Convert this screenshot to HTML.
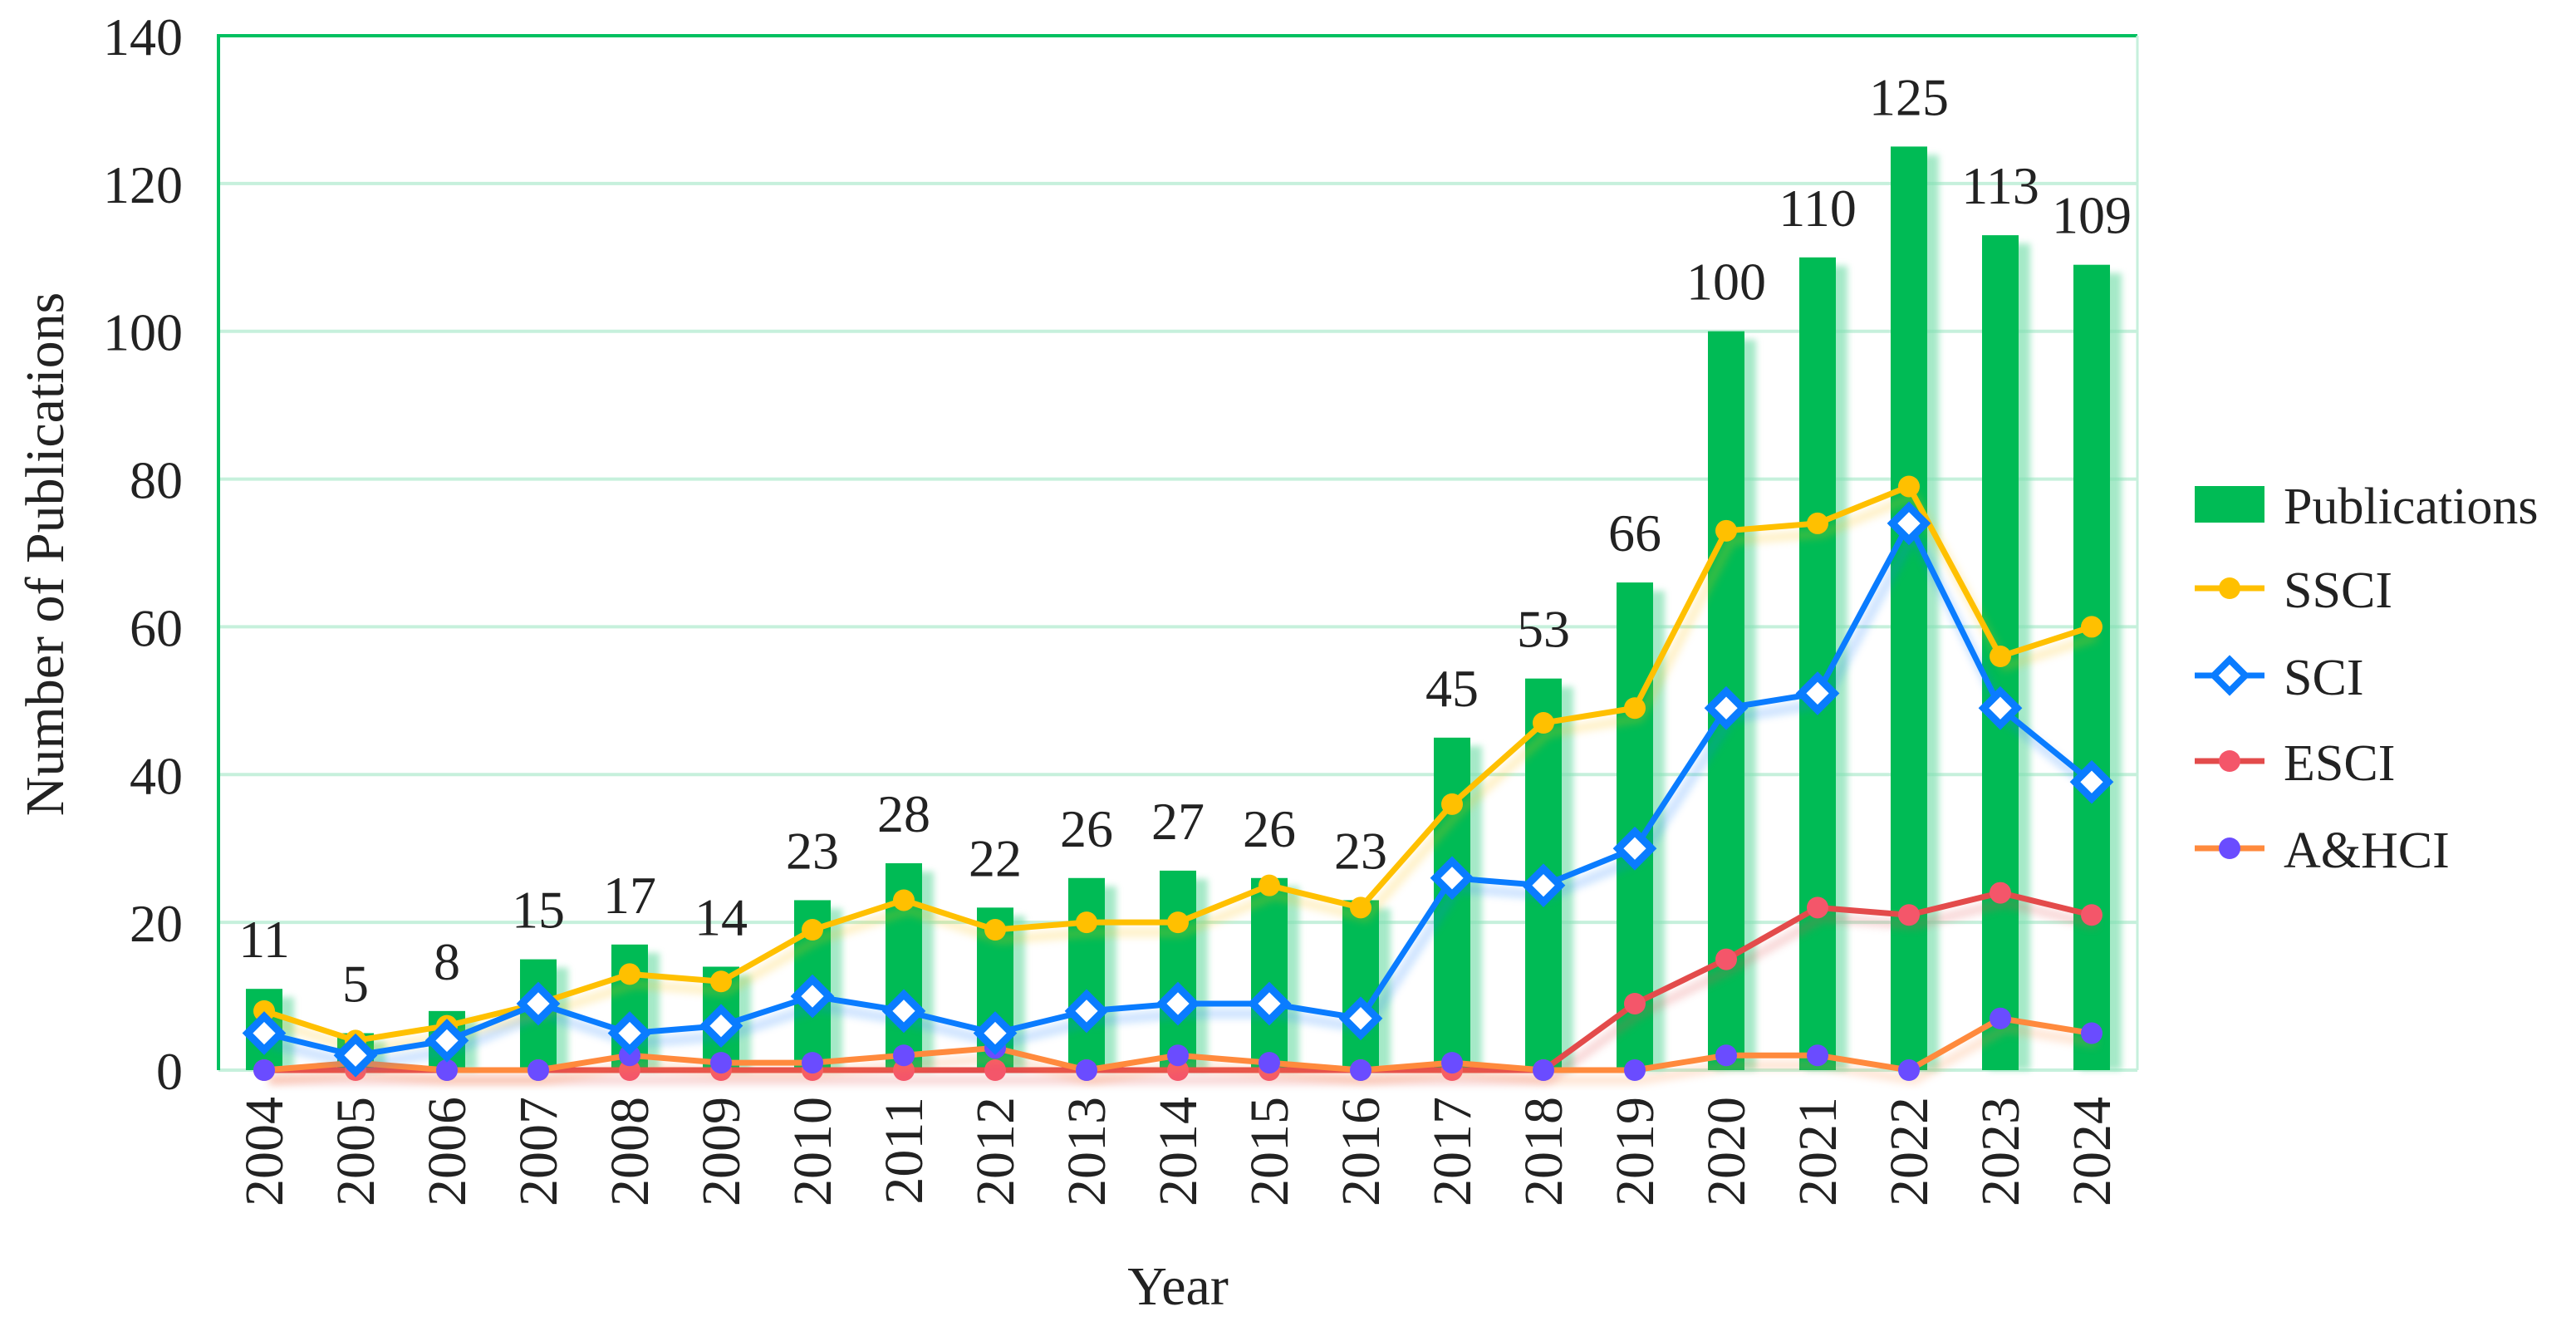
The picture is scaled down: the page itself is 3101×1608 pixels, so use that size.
<!DOCTYPE html>
<html><head><meta charset="utf-8">
<style>
html,body{margin:0;padding:0;background:#fff;}
svg{display:block;font-family:"Liberation Serif","Times New Roman",serif;}
</style></head>
<body>
<svg id="chart" width="3101" height="1608" viewBox="0 0 3101 1608" xmlns="http://www.w3.org/2000/svg">
<defs>
<filter id="glow" x="-20%" y="-20%" width="140%" height="140%"><feGaussianBlur stdDeviation="4"/></filter>
<filter id="lglow" x="-5%" y="-20%" width="110%" height="140%"><feGaussianBlur stdDeviation="5"/></filter>
</defs>
<g id="grid"></g>
<g id="bars"></g>
<g id="lines"></g>
<g id="axes"></g>
<g id="labels"></g>
<text x="0" y="0" transform="translate(76,667) rotate(-90)" font-size="66" text-anchor="middle" fill="#222">Number of Publications</text>
<text x="1418" y="1570" font-size="66" text-anchor="middle" fill="#222">Year</text>
<g id="legend"></g>
</svg>
<script>
const years = ["2004","2005","2006","2007","2008","2009","2010","2011","2012","2013","2014","2015","2016","2017","2018","2019","2020","2021","2022","2023","2024"];
const publications = [11,5,8,15,17,14,23,28,22,26,27,26,23,45,53,66,100,110,125,113,109];
const ssci = [8,4,6,9,13,12,19,23,19,20,20,25,22,36,47,49,73,74,79,56,60];
const sci = [5,2,4,9,5,6,10,8,5,8,9,9,7,26,25,30,49,51,74,49,39];
const esci = [0,0,0,0,0,0,0,0,0,0,0,0,0,0,0,9,15,22,21,24,21];
const ahci = [0,1,0,0,2,1,1,2,3,0,2,1,0,1,0,0,2,2,0,7,5];
const yTicks = [0,20,40,60,80,100,120,140];

const NS="http://www.w3.org/2000/svg";
const L=263,R=2573,T=43,B=1288,YMAX=140;
const X0=318,X1=2518;
function xs(i){return X0+(X1-X0)*i/(years.length-1);}
function ys(v){return B-(B-T)*v/YMAX;}
function mk(tag,attrs,parent){const e=document.createElementNS(NS,tag);for(const k in attrs)e.setAttribute(k,attrs[k]);parent.appendChild(e);return e;}

const grid=document.getElementById('grid');
yTicks.forEach(t=>{
  const ln=mk('line',{x1:L,x2:R,y1:ys(t),y2:ys(t),stroke:'#c6f0dc','stroke-width':4},grid);
  
  
  const tx=mk('text',{x:220,y:ys(t)+23,'font-size':64,'text-anchor':'end',fill:'#222'},grid);
  tx.textContent=t;
  
  
});

const bars=document.getElementById('bars');
const labels=document.getElementById('labels');
const BW=44;
publications.forEach((v,i)=>{
  const x=xs(i);
  const sh=mk('rect',{x:x-BW/2+8,y:ys(v)+10,width:BW+6,height:B-ys(v)-10,fill:'#7fe0b0',opacity:0.7,filter:'url(#glow)'},bars);
  
  
  const r=mk('rect',{x:x-BW/2,y:ys(v),width:BW,height:B-ys(v),fill:'#00bb55'},bars);
  
  
  const t=mk('text',{x:x,y:ys(v)-38,'font-size':64,'text-anchor':'middle',fill:'#222'},labels);
  t.textContent=v;
  
  
  const yl=mk('text',{x:0,y:0,transform:`translate(${x+22},1320) rotate(-90)`,'font-size':66,'text-anchor':'end',fill:'#222'},labels);
  yl.textContent=years[i];
  
  
});

const lines=document.getElementById('lines');
function series(vals,color,name,marker,mcolor){
  const pts=vals.map((v,i)=>xs(i)+','+ys(v)).join(' ');
  const g=mk('polyline',{points:vals.map((v,i)=>(xs(i)+6)+','+(ys(v)+12)).join(' '),fill:'none',stroke:color,'stroke-width':10,opacity:0.25,filter:'url(#lglow)'},lines);
  
  
  const pl=mk('polyline',{points:pts,fill:'none',stroke:color,'stroke-width':7,'stroke-linejoin':'round'},lines);
  
  
  vals.forEach((v,i)=>{
    let m;
    if(marker==='diamond'){
      const x=xs(i),y=ys(v),d=20;
      m=mk('polygon',{points:`${x},${y-d} ${x+d},${y} ${x},${y+d} ${x-d},${y}`,fill:'#fff',stroke:mcolor,'stroke-width':9},lines);
    }else{
      m=mk('circle',{cx:xs(i),cy:ys(v),r:13,fill:mcolor},lines);
    }
    
    
  });
}
series(esci,'#e34b4b','esci','circle','#f4566a');
series(ahci,'#ff8a3d','ahci','circle','#6a4cff');
series(ssci,'#ffc000','ssci','circle','#ffc000');
series(sci,'#0a7cff','sci','diamond','#0a7cff');

const axes=document.getElementById('axes');
mk('line',{x1:L,x2:L,y1:T-2,y2:B,stroke:'#00c060','stroke-width':4},axes);
mk('line',{x1:L-2,x2:R,y1:T,y2:T,stroke:'#00c060','stroke-width':4},axes);
mk('line',{x1:R,x2:R,y1:T,y2:B,stroke:'#c6f0dc','stroke-width':3},axes);

const lg=document.getElementById('legend');
const lr=mk('rect',{x:2642,y:585,width:84,height:44,fill:'#00bb55'},lg);


const lt=mk('text',{x:2749,y:630,'font-size':62,fill:'#222'},lg);
lt.textContent='Publications';


const entries=[['SSCI','#ffc000','#ffc000','circle',708],['SCI','#0a7cff','#0a7cff','diamond',813],['ESCI','#e34b4b','#f4566a','circle',916],['A&HCI','#ff8a3d','#6a4cff','circle',1021]];
entries.forEach(e=>{
  const [n,lc,mc,mt,y]=e;
  const l=mk('line',{x1:2642,x2:2726,y1:y,y2:y,stroke:lc,'stroke-width':7},lg);
  
  
  let m;
  if(mt==='diamond'){m=mk('polygon',{points:`2684,${y-19} 2703,${y} 2684,${y+19} 2665,${y}`,fill:'#fff',stroke:mc,'stroke-width':8},lg);}
  else{m=mk('circle',{cx:2684,cy:y,r:13,fill:mc},lg);}
  
  
  const t=mk('text',{x:2749,y:y+23,'font-size':62,fill:'#222'},lg);
  t.textContent=n;
  
  
});
</script>
</body></html>
